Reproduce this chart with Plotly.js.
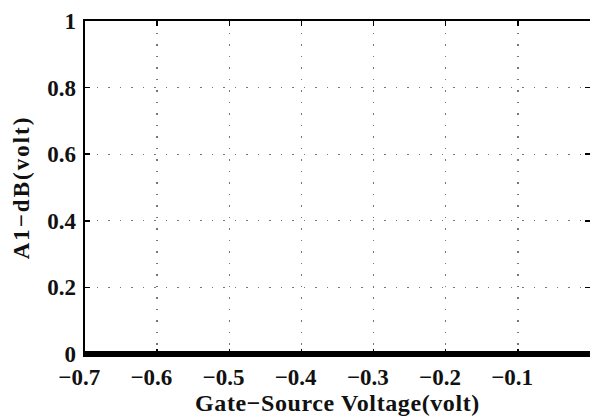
<!DOCTYPE html>
<html>
<head>
<meta charset="utf-8">
<script src="https://cdn.plot.ly/plotly-3.0.1.min.js"></script>
<style>
html,body{margin:0;padding:0;background:#fff;}
#chart{width:590px;height:420px;}
.xtitle{letter-spacing:0.6px;}
.ytitle{letter-spacing:2px;}
</style>
</head>
<body>
<div id="chart"></div>
<script>
// Data
var gateSourceVoltage = [-0.7, -0.6, -0.5, -0.4, -0.3, -0.2, -0.1, 0];
var a1dB = [0, 0, 0, 0, 0, 0, 0, 0];
var xTickVals = [-0.7, -0.6, -0.5, -0.4, -0.3, -0.2, -0.1];
var xTickText = ['\u22120.7', '\u22120.6', '\u22120.5', '\u22120.4', '\u22120.3', '\u22120.2', '\u22120.1'];
var yTickVals = [0, 0.2, 0.4, 0.6, 0.8, 1];
var yTickText = ['0', '0.2', '0.4', '0.6', '0.8', '1'];
var xTitle = 'Gate\u2212Source Voltage(volt)';
var yTitle = 'A1\u2212dB(volt)';

var font = 'Liberation Serif, Times New Roman, serif';

var trace = {
  x: gateSourceVoltage,
  y: a1dB,
  type: 'scatter',
  mode: 'lines',
  line: {color: '#000', width: 6},
  cliponaxis: false,
  hoverinfo: 'skip'
};

var axisCommon = {
  showline: true,
  linecolor: '#000',
  linewidth: 2.5,
  mirror: 'ticks',
  ticks: 'inside',
  ticklen: 5,
  tickwidth: 1.5,
  tickcolor: '#000',
  showgrid: true,
  gridcolor: '#777',
  gridwidth: 1.3,
  griddash: '1.5px,10px',
  zeroline: false,
  tickfont: {family: font, size: 23, color: '#111'}
};

var layout = {
  width: 590,
  height: 420,
  margin: {l: 85, r: 0, t: 21, b: 66},
  paper_bgcolor: '#fff',
  plot_bgcolor: '#fff',
  showlegend: false,
  xaxis: Object.assign({}, axisCommon, {
    range: [-0.7, 0],
    tickmode: 'array',
    tickvals: xTickVals,
    ticktext: xTickText.map(function(t){return '<b>' + t + '\u2002</b>';}),
    ticklabelstandoff: 1,
    title: {text: '<b>' + xTitle + '</b>', font: {family: font, size: 24, color: '#111'}, standoff: 0}
  }),
  yaxis: Object.assign({}, axisCommon, {
    range: [0, 1],
    tickmode: 'array',
    tickvals: yTickVals,
    ticktext: yTickText.map(function(t){return '<b>' + t + '</b>';}),
    ticklabelstandoff: 2,
    title: {text: '<b>' + yTitle + '</b>', font: {family: font, size: 23, color: '#111'}, standoff: 11}
  })
};

Plotly.newPlot('chart', [trace], layout, {displayModeBar: false, staticPlot: true});
</script>
</body>
</html>
